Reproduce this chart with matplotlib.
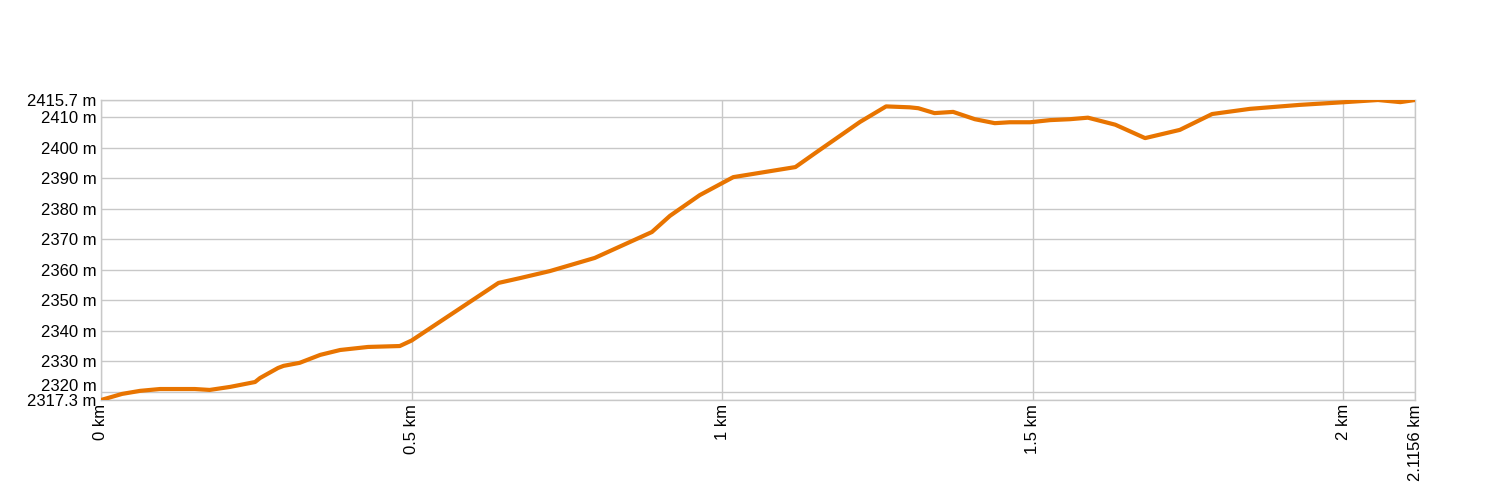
import numpy as np
import matplotlib
matplotlib.use("Agg")
import matplotlib.pyplot as plt
import matplotlib.transforms as mtransforms

# elevation profile (distance in km, elevation in m)
dist = [0.0, 0.034, 0.063, 0.095, 0.151, 0.175, 0.208, 0.248, 0.256, 0.285, 0.294,
        0.320, 0.353, 0.385, 0.430, 0.481, 0.500, 0.640, 0.675,
        0.723, 0.795, 0.887, 0.916, 0.964, 1.018, 1.118, 1.150, 1.222, 1.264,
        1.302, 1.316, 1.342, 1.372, 1.407, 1.439, 1.463, 1.496, 1.528, 1.560,
        1.589, 1.633, 1.681, 1.737, 1.789, 1.850, 1.930, 2.003, 2.056, 2.092, 2.1156]
elev = [2317.3, 2319.3, 2320.3, 2320.9, 2320.9, 2320.6, 2321.6, 2323.2, 2324.5, 2327.8, 2328.5,
        2329.5, 2332.1, 2333.7, 2334.7, 2335.0, 2336.8, 2355.7, 2357.3,
        2359.6, 2363.9, 2372.4, 2377.7, 2384.5, 2390.4, 2393.7, 2398.3, 2408.5, 2413.6,
        2413.3, 2413.0, 2411.4, 2411.8, 2409.4, 2408.1, 2408.4, 2408.4, 2409.1, 2409.4,
        2409.9, 2407.6, 2403.2, 2405.9, 2411.1, 2412.8, 2414.1, 2415.0, 2415.7, 2415.0, 2415.7]

yticks = [2317.3, 2320, 2330, 2340, 2350, 2360, 2370, 2380, 2390, 2400, 2410, 2415.7]
ytick_labels = ["2317.3 m", "2320 m", "2330 m", "2340 m", "2350 m", "2360 m", "2370 m",
                "2380 m", "2390 m", "2400 m", "2410 m", "2415.7 m"]
xticks = [0, 0.5, 1, 1.5, 2, 2.1156]
xtick_labels = ["0 km", "0.5 km", "1 km", "1.5 km", "2 km", "2.1156 km"]

plt.rcParams['font.family'] = ['Liberation Sans', 'DejaVu Sans']

fig = plt.figure(figsize=(15, 5), dpi=100)
ax = fig.add_axes([101 / 1500, 0.2, 1314 / 1500, 0.6])

ax.plot(dist, elev, color="#e87400", lw=3, solid_joinstyle="round", zorder=3)

ax.set_xlim(0, 2.1156)
ax.set_ylim(2317.3, 2415.7)
ax.set_xticks(xticks)
ax.set_xticklabels(xtick_labels, rotation=90, fontsize=12)
ax.set_yticks(yticks)
ax.set_yticklabels(ytick_labels, fontsize=12)
ax.tick_params(length=0, pad=3)
ax.grid(True, color="#c8c8c8", lw=1)
for s in ax.spines.values():
    s.set_color("#c8c8c8")
    s.set_linewidth(1)

# nudge crowded labels apart like the original
lbls = ax.get_yticklabels()
up = mtransforms.ScaledTranslation(0, 7 / 100, fig.dpi_scale_trans)
lbls[1].set_transform(lbls[1].get_transform() + up)

fig.savefig("out.png", dpi=100)
